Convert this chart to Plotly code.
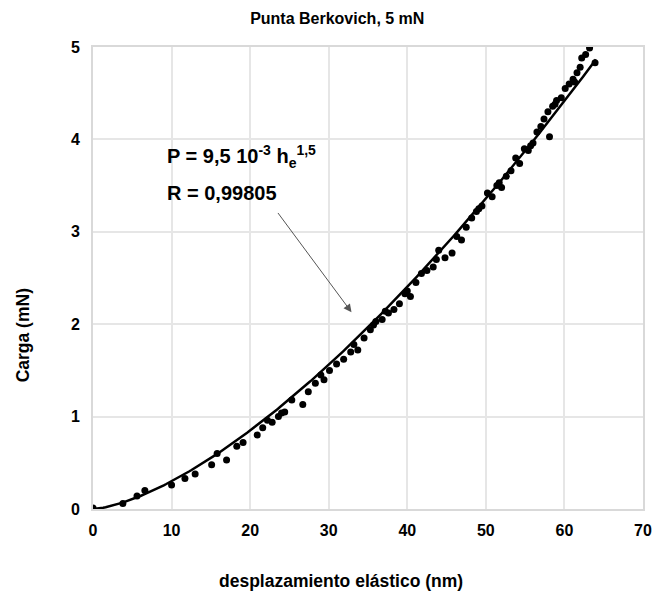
import plotly.graph_objects as go

h_data = [0, 3.8, 5.6, 6.6, 10.0, 11.7, 13.0, 15.1, 15.8, 17.0, 18.3, 19.1, 20.9, 21.6, 22.8,
          23.6, 24.4, 25.3, 26.7, 27.4, 28.3, 29.4, 30.1, 31.0, 31.9, 32.8, 33.7, 34.5, 35.3,
          36.0, 36.8, 37.6, 38.3, 39.0, 39.7, 40.4, 41.1, 41.8, 42.5, 43.3, 44.0, 44.8, 45.7,
          46.3, 46.9, 47.5, 48.2, 48.8, 49.5, 50.2, 50.8, 51.4, 52.0, 52.6, 53.2, 53.8, 54.3,
          54.9, 55.4, 56.0, 56.5, 57.0, 57.4, 57.9, 58.1, 58.5, 59.0, 59.6, 60.1, 60.6, 61.1,
          61.6, 62.0, 62.2, 62.7, 63.2, 63.9,
          22.2, 24.0, 29.0, 33.2, 35.7, 37.2, 40.0, 43.7, 49.1, 51.7, 55.7, 58.8, 61.3]
p_data = [0.01, 0.06, 0.14, 0.20, 0.26, 0.33, 0.38, 0.48, 0.60, 0.53, 0.68, 0.72, 0.80, 0.88, 0.94,
          1.00, 1.05, 1.18, 1.13, 1.27, 1.36, 1.40, 1.50, 1.57, 1.62, 1.70, 1.72, 1.85, 1.94,
          2.03, 2.05, 2.12, 2.16, 2.22, 2.33, 2.30, 2.45, 2.55, 2.58, 2.62, 2.80, 2.72, 2.77,
          2.95, 2.91, 3.05, 3.15, 3.22, 3.28, 3.42, 3.38, 3.50, 3.48, 3.60, 3.66, 3.80, 3.74,
          3.90, 3.88, 3.96, 4.08, 4.14, 4.22, 4.30, 4.03, 4.36, 4.42, 4.45, 4.55, 4.60, 4.65,
          4.72, 4.78, 4.88, 4.92, 4.99, 4.83,
          0.96, 1.04, 1.45, 1.78, 1.99, 2.14, 2.36, 2.70, 3.25, 3.53, 3.93, 4.38, 4.62]

# Fit: P = 9.5e-3 * h^1.5
fit_coef = 9.5e-3
fit_exp = 1.5
h_fit_max = 64.0
n_fit = 200
h_fit = [h_fit_max * i / (n_fit - 1) for i in range(n_fit)]
p_fit = [fit_coef * h ** fit_exp for h in h_fit]

x_ticks = [0, 10, 20, 30, 40, 50, 60, 70]
y_ticks = [0, 1, 2, 3, 4, 5]

font_family = "Liberation Sans, Arial, sans-serif"

fig = go.Figure()
fig.add_trace(go.Scatter(x=h_data, y=p_data, mode="markers",
                         marker=dict(color="black", size=7), showlegend=False))
fig.add_trace(go.Scatter(x=h_fit, y=p_fit, mode="lines",
                         line=dict(color="black", width=2.5), showlegend=False))

axis_common = dict(showgrid=True, gridcolor="#e6e6e6", gridwidth=1.5,
                   showline=True, linecolor="#d9d9d9", linewidth=2, mirror=True,
                   zeroline=False, ticks="",
                   tickfont=dict(family=font_family, size=16, color="black", weight="bold"))

fig.update_layout(
    width=672, height=592,
    margin=dict(l=85, r=37, t=39, b=91),
    paper_bgcolor="white", plot_bgcolor="white",
    title=dict(text="<b>Punta Berkovich, 5 mN</b>", x=0.49, xanchor="center", y=0.983, yanchor="middle",
               font=dict(family=font_family, size=16, color="black")),
    xaxis=dict(range=[0, 70], tickvals=x_ticks, ticklabelstandoff=6, **axis_common),
    yaxis=dict(range=[0, 5], tickvals=y_ticks, ticklabelstandoff=8, **axis_common),
)

# Axis titles placed as annotations (offset from plot centre as in the reference)
fig.add_annotation(x=0.45, y=-0.155, xref="paper", yref="paper", xanchor="center", yanchor="middle",
                   text="<b>desplazamiento elástico (nm)</b>", showarrow=False,
                   font=dict(family=font_family, size=17.5, color="black"))
fig.add_annotation(x=-0.128, y=0.375, xref="paper", yref="paper", xanchor="center", yanchor="middle",
                   text="<b>Carga (mN)</b>", showarrow=False, textangle=-90,
                   font=dict(family=font_family, size=17.5, color="black"))

fig.add_annotation(x=9.2, y=3.82, xref="x", yref="y", xanchor="left", yanchor="middle",
                   text="<b>P = 9,5 10<sup>-3</sup> h<sub>e</sub><sup>1,5</sup></b>", showarrow=False,
                   font=dict(family=font_family, size=20, color="black"))
fig.add_annotation(x=9.2, y=3.42, xref="x", yref="y", xanchor="left", yanchor="middle",
                   text="<b>R = 0,99805</b>", showarrow=False,
                   font=dict(family=font_family, size=20, color="black"))
fig.add_annotation(x=32.9, y=2.13, ax=23.4, ay=3.22, xref="x", yref="y", axref="x", ayref="y",
                   text="", showarrow=True, arrowhead=2, arrowsize=1.6, arrowwidth=1,
                   arrowcolor="#555555")

fig.write_html("out.html")
